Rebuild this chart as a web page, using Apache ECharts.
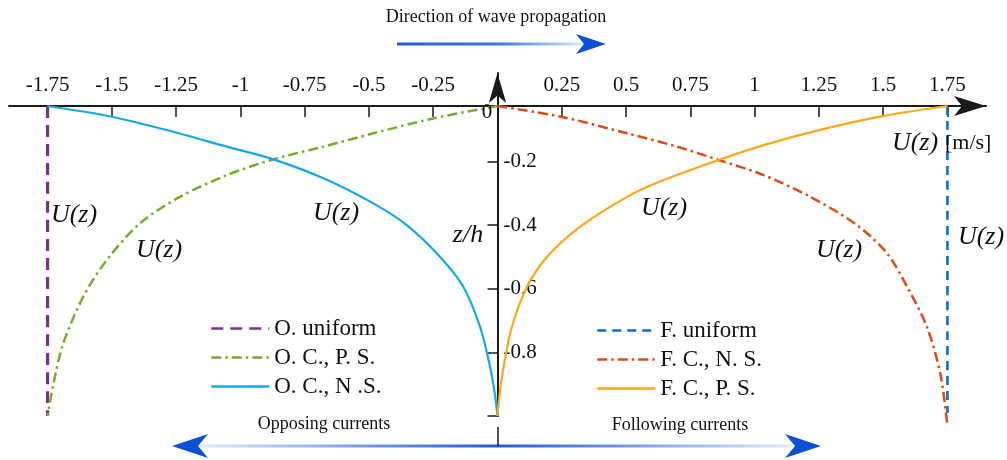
<!DOCTYPE html>
<html>
<head>
<meta charset="utf-8">
<script src="https://cdn.jsdelivr.net/npm/echarts@6/dist/echarts.min.js"></script>
<style>
html, body { margin: 0; padding: 0; background: #fff; }
#chart { width: 1007px; height: 460px; }
</style>
</head>
<body>
<div id="chart"></div>
<script>
// tick labels
var uTicks = [-1.75, -1.5, -1.25, -1, -0.75, -0.5, -0.25, 0.25, 0.5, 0.75, 1, 1.25, 1.5, 1.75];
var zTicks = [-1, -0.8, -0.6, -0.4, -0.2];
var zLabels = [-0.8, -0.6, -0.4, -0.2];

// opposing currents
var oUniformZ = [0, -1];
var oUniformU = [-1.75, -1.75];
var ocpsZ = [0, -0.04, -0.088, -0.131, -0.172, -0.223, -0.293, -0.378, -0.497, -0.615, -0.766, -0.895, -1];
var ocpsU = [0, -0.25, -0.483, -0.677, -0.872, -1.053, -1.235, -1.39, -1.52, -1.611, -1.689, -1.727, -1.75];
var ocnsZ = [0, -0.0345, -0.083, -0.131, -0.172, -0.233, -0.314, -0.384, -0.486, -0.583, -0.712, -0.841, -0.93, -1];
var ocnsU = [-1.75, -1.5, -1.262, -1.053, -0.872, -0.677, -0.483, -0.353, -0.224, -0.133, -0.068, -0.029, -0.01, 0];

// following currents
var fUniformZ = [0, -0.99];
var fUniformU = [1.75, 1.75];
var fcnsZ = [0, -0.0345, -0.088, -0.131, -0.174, -0.223, -0.293, -0.384, -0.475, -0.583, -0.712, -0.862, -1.03];
var fcnsU = [0, 0.247, 0.504, 0.698, 0.86, 1.035, 1.217, 1.398, 1.515, 1.593, 1.67, 1.722, 1.75];
var fcpsZ = [0, -0.032, -0.077, -0.126, -0.174, -0.239, -0.293, -0.389, -0.486, -0.583, -0.712, -0.841, -0.93, -1];
var fcpsU = [1.75, 1.502, 1.255, 1.035, 0.86, 0.646, 0.504, 0.322, 0.193, 0.115, 0.056, 0.024, 0.008, 0];

var pairs = function (u, z) {
    return u.map(function (v, i) { return [v, z[i]]; });
};

var serif = "'Liberation Serif', 'DejaVu Serif', serif";
var axisColor = '#1a1a1a';

var mkSeries = function (name, u, z, color, width, type, clip) {
    return {
        name: name,
        type: 'line',
        data: pairs(u, z),
        showSymbol: false,
        symbol: 'none',
        smooth: 0.3,
        clip: clip !== false,
        lineStyle: { color: color, width: width, type: type },
        itemStyle: { color: color },
        emphasis: { disabled: true },
        z: 3
    };
};

var txt = function (text, x, y, size, italic, align) {
    return {
        type: 'text', x: x, y: y, z: 10,
        style: {
            text: text, fill: '#111',
            font: (italic ? 'italic ' : '') + size + 'px ' + serif,
            align: align || 'center', verticalAlign: 'middle'
        }
    };
};

var init_chart = function () {
    var myChart = echarts.init(document.getElementById('chart'));
    var legendCommon = {
        orient: 'vertical',
        padding: 0,
        itemWidth: 58,
        itemHeight: 14,
        itemGap: 6,
        selectedMode: false,
        itemStyle: { opacity: 0 },
        lineStyle: { width: 2.5 },
        textStyle: { fontFamily: serif, fontSize: 23, color: '#111' }
    };
    var option = {
        animation: false,
        backgroundColor: '#fff',
        grid: { left: 9, right: 21, top: 73, bottom: 44, outerBoundsMode: 'none' },
        legend: [
            Object.assign({}, legendCommon, {
                left: 210, top: 317,
                data: ['O. uniform', 'O. C., P. S.', 'O. C., N .S.']
            }),
            Object.assign({}, legendCommon, {
                left: 596, top: 319,
                data: ['F. uniform', 'F. C., N. S.', 'F. C., P. S.']
            })
        ],
        xAxis: {
            type: 'value',
            position: 'top',
            offset: -33,
            min: -1.9,
            max: 1.9,
            axisLine: {
                onZero: false,
                symbol: ['none', 'arrow'], symbolSize: [15, 32],
                lineStyle: { color: axisColor, width: 2 }
            },
            axisTick: { inside: true, length: 11, customValues: uTicks, lineStyle: { color: axisColor, width: 1.5 } },
            axisLabel: {
                customValues: uTicks, margin: 10, color: '#111',
                fontFamily: serif, fontSize: 21,
                formatter: function (v) { return String(v); }
            },
            splitLine: { show: false }
        },
        yAxis: [
            { type: 'value', position: 'left', min: -1, max: 0.1065, show: false },
            {
                type: 'value',
                position: 'left',
                offset: -488.5,
                min: -1,
                max: 0.0783,
                axisLine: {
                    onZero: false,
                    symbol: ['none', 'arrow'], symbolSize: [13, 30],
                    lineStyle: { color: axisColor, width: 2 }
                },
                axisTick: { length: 10, customValues: zTicks, lineStyle: { color: axisColor, width: 1.5 } },
                axisLabel: {
                    inside: true, customValues: zLabels, margin: 6, color: '#111',
                    fontFamily: serif, fontSize: 21,
                    formatter: function (v) { return String(v); }
                },
                splitLine: { show: false }
            }
        ],
        series: [
            mkSeries('O. uniform', oUniformU, oUniformZ, '#7E2F8E', 3.2, [12, 7]),
            mkSeries('O. C., P. S.', ocpsU, ocpsZ, '#77AC30', 2.5, [10, 4, 2.5, 4]),
            mkSeries('O. C., N .S.', ocnsU, ocnsZ, '#16A8EA', 2.2, 'solid'),
            mkSeries('F. uniform', fUniformU, fUniformZ, '#0B6FC9', 2.6, [9, 6]),
            mkSeries('F. C., N. S.', fcnsU, fcnsZ, '#DA4E16', 2.5, [10, 4, 2.5, 4], false),
            mkSeries('F. C., P. S.', fcpsU, fcpsZ, '#FBA71B', 2.2, 'solid')
        ],
        graphic: [
            txt('Direction of wave propagation', 496, 17, 18, false),
            {
                type: 'line', z: 5,
                shape: { x1: 397, y1: 44, x2: 584, y2: 44 },
                style: {
                    lineWidth: 3,
                    stroke: new echarts.graphic.LinearGradient(0, 0, 1, 0, [
                        { offset: 0, color: '#1f5bd6' },
                        { offset: 0.55, color: '#3d7ae0' },
                        { offset: 1, color: '#e3ecfb' }
                    ])
                }
            },
            {
                type: 'polygon', z: 6,
                shape: { points: [[606, 44], [576, 34], [584, 44], [576, 54]] },
                style: { fill: '#0b4fd4' }
            },
            // bottom double arrow
            {
                type: 'line', z: 5,
                shape: { x1: 200, y1: 446, x2: 792, y2: 446 },
                style: {
                    lineWidth: 3,
                    stroke: new echarts.graphic.LinearGradient(0, 0, 1, 0, [
                        { offset: 0, color: '#e3ecfb' },
                        { offset: 0.5, color: '#1f5bd6' },
                        { offset: 1, color: '#e3ecfb' }
                    ])
                }
            },
            {
                type: 'polygon', z: 6,
                shape: { points: [[172, 446], [208, 434], [198, 446], [208, 458]] },
                style: { fill: '#0b4fd4' }
            },
            {
                type: 'polygon', z: 6,
                shape: { points: [[821, 446], [785, 434], [795, 446], [785, 458]] },
                style: { fill: '#0b4fd4' }
            },
            {
                type: 'line', z: 5,
                shape: { x1: 498, y1: 427, x2: 498, y2: 446 },
                style: { stroke: axisColor, lineWidth: 1.5 }
            },
            txt('Opposing currents', 324, 424, 18, false),
            txt('Following currents', 680, 425, 18, false),
            txt('0', 487, 112, 21, false),
            txt('z/h', 468, 235, 26, true),
            txt('U(z)', 74, 215, 26, true),
            txt('U(z)', 159, 250, 26, true),
            txt('U(z)', 336, 213, 26, true),
            txt('U(z)', 664, 208, 26, true),
            txt('U(z)', 839, 250, 26, true),
            txt('U(z)', 981, 237, 26, true),
            txt('U(z)', 915, 143, 26, true),
            txt('[m/s]', 945, 143, 22, false, 'left')
        ]
    };
    myChart.setOption(option);
};

init_chart();
</script>
</body>
</html>
